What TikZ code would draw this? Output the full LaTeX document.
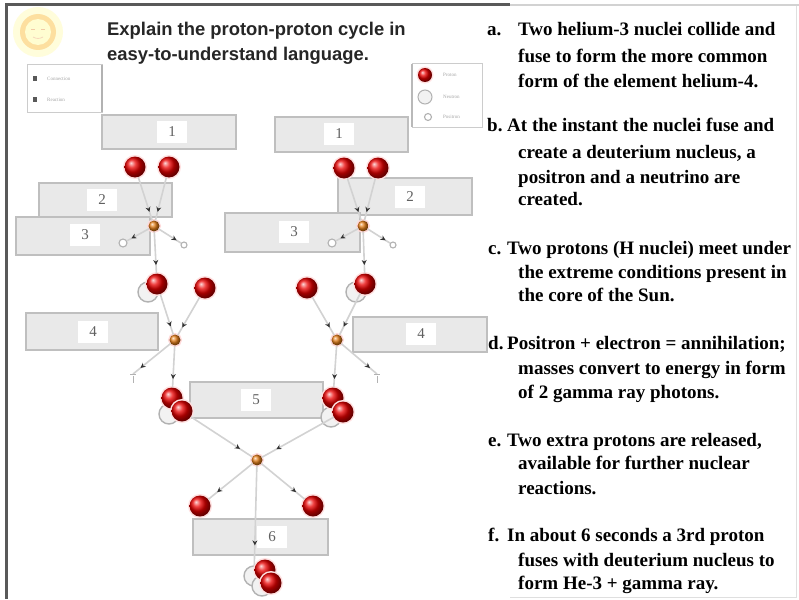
\documentclass[tikz,border=0pt]{standalone}
\usepackage{fontspec}
\setmainfont{Liberation Serif}
\newfontfamily\headfont{Liberation Sans}
\usetikzlibrary{arrows.meta,decorations.markings}

\begin{document}
\begin{tikzpicture}[x=1pt,y=-1pt,
  stepbox/.style={draw=gray!50, line width=1.6pt, fill=gray!17},
  numlabel/.style={fill=white, minimum width=30pt, minimum height=22pt, inner sep=0pt,
    font=\fontsize{15}{15}\selectfont, text=gray!75!black},
  proton/.style={circle, minimum size=21pt, inner sep=0pt, ball color=red!92!black,
    preaction={draw=red!12, line width=3pt}},
  neutron/.style={circle, minimum size=20pt, inner sep=0pt, draw=gray!60, line width=1.4pt, fill=gray!10},
  reaction/.style={circle, minimum size=11pt, inner sep=0pt, ball color=orange!60!brown,
    preaction={draw=red!15, line width=3pt}},
  lepton/.style={circle, minimum size=8pt, inner sep=0pt, draw=gray!60, line width=1.1pt, fill=white},
  flow/.style={draw=gray!35, line width=1.6pt, postaction={decorate},
    decoration={markings, mark=at position 0.8 with {\arrow[black!80]{Stealth[length=5pt,width=5pt]}}}},
  steptext/.style={anchor=base west, inner sep=0pt, font=\fontsize{19}{19}\selectfont\bfseries},
  legendtext/.style={anchor=west, inner sep=0pt, font=\fontsize{5}{5}\selectfont, text=gray!70},
]
\useasboundingbox (0,0) rectangle (799,599);
\fill[white] (0,0) rectangle (799,599);

% page frame
\draw[gray!70!black, line width=3pt] (5,5) -- (510,5);
\draw[gray!35, line width=2.5pt] (510,5) -- (799,5);
\draw[gray!70!black, line width=3pt] (6,4) -- (6,599);
\draw[gray!25, line width=1pt] (510,597) -- (796,597) -- (796,6);

% sun emblem
\fill[yellow!14] (38,32) circle[radius=25pt];
\fill[yellow!35!orange!35] (38,32) circle[radius=18pt];
\fill[yellow!18] (38,32) circle[radius=13pt];
\draw[orange!50!brown!40, line width=0.8pt] (31,29) -- (35,29) (41,29) -- (45,29);
\draw[orange!50!brown!30, line width=0.8pt] (33,37) to[bend right=30] (43,37);

% heading
\node[anchor=base west, inner sep=0pt, font=\headfont\bfseries\fontsize{18.4}{18.4}\selectfont, text=black!85]
  (title1) at (107,36) {Explain the proton-proton cycle in};
\node[anchor=base west, inner sep=0pt, font=\headfont\bfseries\fontsize{18.4}{18.4}\selectfont, text=black!85]
  (title2) at (107,61) {easy-to-understand language.};

% legends
\draw[gray!40, line width=1pt, fill=white] (27,65) rectangle (102,112);
\draw[gray!60, line width=1.6pt] (102,65) -- (102,112);
\fill[gray!70!black] (33,76) rectangle (37,81);
\node[legendtext] (lgA) at (47,79) {Connection};
\fill[gray!70!black] (33,97) rectangle (37,102);
\node[legendtext] (lgB) at (47,100) {Reaction};

\draw[gray!40, line width=1pt, fill=white] (412,64) rectangle (482,127);
\draw[gray!55, line width=1.6pt] (412,64) -- (412,127);
\node[proton, minimum size=14pt] (lgP) at (425,75) {};
\node[legendtext] (lgPt) at (443,75) {Proton};
\node[neutron, minimum size=14pt, line width=1pt] (lgN) at (425,97) {};
\node[legendtext] (lgNt) at (443,97) {Neutron};
\node[lepton, minimum size=7pt] (lgE) at (428,117) {};
\node[legendtext] (lgEt) at (443,117) {Positron};

% numbered step boxes
\draw[stepbox] (102,115) rectangle (236,149);
\node[numlabel] (n1L) at (172,132) {1};
\draw[stepbox] (275,117) rectangle (408,152);
\node[numlabel] (n1R) at (339,134) {1};
\draw[stepbox] (39,183) rectangle (172,217);
\node[numlabel] (n2L) at (102,200) {2};
\draw[stepbox] (338,178) rectangle (472,215);
\node[numlabel] (n2R) at (410,197) {2};
\draw[stepbox] (16,217) rectangle (150,255);
\node[numlabel] (n3L) at (85,235) {3};
\draw[stepbox] (225,213) rectangle (360,252);
\node[numlabel] (n3R) at (294,232) {3};
\draw[stepbox] (26,313) rectangle (158,350);
\node[numlabel] (n4L) at (93,332) {4};
\draw[stepbox] (353,317) rectangle (487,352);
\node[numlabel] (n4R) at (421,334) {4};
\draw[stepbox] (190,382) rectangle (323,418);
\node[numlabel] (n5) at (256,400) {5};
\draw[stepbox] (193,519) rectangle (328,555);
\node[numlabel] (n6) at (272,537) {6};

% first fusion: two protons -> deuteron + positron + neutrino
\node[proton] (pLa) at (135,167) {};
\node[proton] (pLb) at (169,167) {};
\node[reaction] (rL1) at (154,226) {};
\node[lepton] (eL) at (123,243) {};
\node[lepton, minimum size=6pt] (vL) at (184,245) {};
\node[neutron] (dLn) at (148,292) {};
\node[proton] (dL) at (157,284) {};

\node[proton] (pRa) at (344,168) {};
\node[proton] (pRb) at (378,168) {};
\node[reaction] (rR1) at (363,226) {};
\node[lepton] (eR) at (332,243) {};
\node[lepton, minimum size=6pt] (vR) at (393,245) {};
\node[neutron] (dRn) at (356,292) {};
\node[proton] (dR) at (365,284) {};

% second fusion: deuteron + proton -> helium-3 + gamma
\node[proton] (qL) at (205,288) {};
\node[reaction] (rL2) at (175,340) {};
\coordinate (gL) at (133,374);
\node[neutron] (hLn) at (169,414) {};
\node[proton] (hLa) at (172,398) {};
\node[proton] (hLb) at (182,411) {};

\node[proton] (qR) at (307,288) {};
\node[reaction] (rR2) at (337,340) {};
\coordinate (gR) at (377,374);
\node[neutron] (hRn) at (331,417) {};
\node[proton] (hRa) at (333,398) {};
\node[proton] (hRb) at (343,412) {};

% third fusion: two helium-3 -> helium-4 + two protons
\node[reaction] (r3) at (257,460) {};
\node[proton] (oL) at (200,506) {};
\node[proton] (oR) at (313,506) {};
\node[neutron] (he4) at (254,576) {};
\node[neutron] (he4b) at (262,586) {};
\node[proton] (he4a) at (265,570) {};
\node[proton] (he4c) at (271,583) {};

% connectors
\draw[flow] (pLa) -- (rL1);
\draw[flow] (pLb) -- (rL1);
\draw[flow] (rL1) -- (eL);
\draw[flow] (rL1) -- (vL);
\draw[flow] (rL1) -- (dL);
\draw[flow] (pRa) -- (rR1);
\draw[flow] (pRb) -- (rR1);
\draw[flow] (rR1) -- (eR);
\draw[flow] (rR1) -- (vR);
\draw[flow] (rR1) -- (dR);

\draw[flow] (dL) -- (rL2);
\draw[flow] (qL) -- (rL2);
\draw[flow] (rL2) -- (gL);
\draw[flow] (rL2) -- (hLa);
\draw[flow] (dR) -- (rR2);
\draw[flow] (qR) -- (rR2);
\draw[flow] (rR2) -- (gR);
\draw[flow] (rR2) -- (hRa);
\draw[gray!60, line width=1pt] (gL) ++(0,2) -- ++(0,7) (gL) ++(-3,0) -- ++(6,0);
\draw[gray!60, line width=1pt] (gR) ++(0,2) -- ++(0,7) (gR) ++(-3,0) -- ++(6,0);

\draw[flow] (hLb) -- (r3);
\draw[flow] (hRb) -- (r3);
\draw[flow] (r3) -- (oL);
\draw[flow] (r3) -- (oR);
\draw[flow] (r3) -- (he4);

% explanation column
\node[steptext] (ta) at (487,36) {a.};
\node[steptext] (ta1) at (518,36) {Two helium-3 nuclei collide and};
\node[steptext] (ta2) at (518,63) {fuse to form the more common};
\node[steptext] (ta3) at (518,88) {form of the element helium-4.};

\node[steptext] (tb) at (487,131) {b.};
\node[steptext] (tb1) at (507,131) {At the instant the nuclei fuse and};
\node[steptext] (tb2) at (518,158) {create a deuterium nucleus, a};
\node[steptext] (tb3) at (518,183) {positron and a neutrino are};
\node[steptext] (tb4) at (518,205) {created.};

\node[steptext] (tc) at (488,254) {c.};
\node[steptext] (tc1) at (507,254) {Two protons (H nuclei) meet under};
\node[steptext] (tc2) at (518,278) {the extreme conditions present in};
\node[steptext] (tc3) at (518,301) {the core of the Sun.};

\node[steptext] (td) at (488,349) {d.};
\node[steptext] (td1) at (507,349) {Positron + electron = annihilation;};
\node[steptext] (td2) at (518,374) {masses convert to energy in form};
\node[steptext] (td3) at (518,398) {of 2 gamma ray photons.};

\node[steptext] (te) at (488,446) {e.};
\node[steptext] (te1) at (507,446) {Two extra protons are released,};
\node[steptext] (te2) at (518,469) {available for further nuclear};
\node[steptext] (te3) at (518,494) {reactions.};

\node[steptext] (tf) at (488,541) {f.};
\node[steptext] (tf1) at (507,541) {In about 6 seconds a 3rd proton};
\node[steptext] (tf2) at (518,566) {fuses with deuterium nucleus to};
\node[steptext] (tf3) at (518,589) {form He-3 + gamma ray.};
\end{tikzpicture}
\end{document}
